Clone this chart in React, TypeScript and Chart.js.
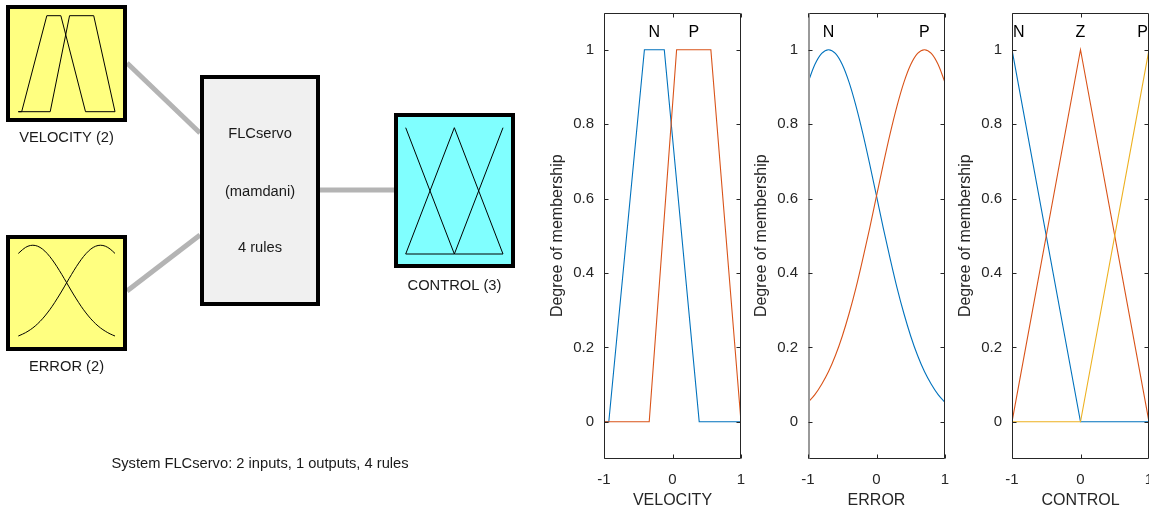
import React, { useEffect, useRef } from 'react';
import { Chart, registerables } from 'chart.js';

Chart.register(...registerables);

const FONT = '"Liberation Sans", Arial, Helvetica, sans-serif';
const AX = '#262626';
const BLUE = '#0072BD';
const ORANGE = '#D95319';
const YELLOW = '#EDB120';

// ---------- data ----------
const yTickValues = [0, 0.2, 0.4, 0.6, 0.8, 1];
const yTickLabels = ['0', '0.2', '0.4', '0.6', '0.8', '1'];
const xTickValues = [-1, 0, 1];
const xTickLabels = ['-1', '0', '1'];

const velocityNX = [-1, -0.93, -0.41, -0.12, 0.39, 1];
const velocityNY = [0, 0, 1, 1, 0, 0];
const velocityPX = [-1, -0.34, 0.06, 0.56, 1];
const velocityPY = [0, 0, 1, 1, 0];

const errorX = [-1, -0.9, -0.8, -0.7, -0.6, -0.5, -0.4, -0.3, -0.2, -0.1, 0, 0.1, 0.2, 0.3, 0.4, 0.5, 0.6, 0.7, 0.8, 0.9, 1];
const errorNY = [0.912, 0.96, 0.99, 1.0, 0.99, 0.96, 0.912, 0.849, 0.775, 0.693, 0.607, 0.52, 0.438, 0.36, 0.291, 0.23, 0.178, 0.135, 0.101, 0.073, 0.052];
const errorPY = [0.052, 0.073, 0.101, 0.135, 0.178, 0.23, 0.291, 0.36, 0.438, 0.52, 0.607, 0.693, 0.775, 0.849, 0.912, 0.96, 0.99, 1.0, 0.99, 0.96, 0.912];

const controlX = [-1, 0, 1];
const controlNY = [1, 0, 0];
const controlZY = [0, 1, 0];
const controlPY = [0, 0, 1];

const velocityNames = ['N', 'P'];
const velocityNameX = [-0.265, 0.31];
const errorNames = ['N', 'P'];
const errorNameX = [-0.7, 0.7];
const controlNames = ['N', 'Z', 'P'];
const controlNameX = [-1, 0, 1];

const systemText = 'System FLCservo: 2 inputs, 1 outputs, 4 rules';

type Series = { x: number[]; y: number[]; color: string; smooth?: boolean };

const velocitySeries: Series[] = [
  { x: velocityNX, y: velocityNY, color: BLUE },
  { x: velocityPX, y: velocityPY, color: ORANGE },
];
const errorSeries: Series[] = [
  { x: errorX, y: errorNY, color: BLUE, smooth: true },
  { x: errorX, y: errorPY, color: ORANGE, smooth: true },
];
const controlSeries: Series[] = [
  { x: controlX, y: controlNY, color: BLUE },
  { x: controlX, y: controlZY, color: ORANGE },
  { x: controlX, y: controlPY, color: YELLOW },
];

// ---------- membership function plot ----------
const Y_AXIS_W = 64;
const RIGHT_PAD = 10;
const PLOT_TOP = 12.5;
const X_AXIS_H = 55;

function MfChart(props: {
  plotLeft: number;
  plotRight: number;
  title: string;
  series: Series[];
  names: string[];
  nameX: number[];
  leftEdgeColor?: string;
}) {
  const ref = useRef<HTMLCanvasElement>(null);
  const { plotLeft, plotRight, title, series, names, nameX, leftEdgeColor } = props;
  const canvasLeft = plotLeft - Y_AXIS_W;
  const canvasWidth = plotRight - plotLeft + Y_AXIS_W + RIGHT_PAD;

  useEffect(() => {
    if (!ref.current) return;
    const boxPlugin = {
      id: 'boxPlugin',
      afterDatasetsDraw(chart: any) {
        const { ctx, chartArea } = chart;
        const xs = chart.scales.x;
        const ys = chart.scales.y;
        const L = Math.round(chartArea.left) + 0.5;
        const R = Math.round(chartArea.right) - 0.5;
        const T = Math.round(chartArea.top) + 0.5;
        const B = Math.round(chartArea.bottom) - 0.5;
        ctx.save();
        ctx.lineWidth = 1;
        ctx.strokeStyle = AX;
        ctx.beginPath();
        ctx.moveTo(L, T);
        ctx.lineTo(R, T);
        ctx.lineTo(R, B);
        ctx.lineTo(L, B);
        ctx.stroke();
        ctx.beginPath();
        if (leftEdgeColor) {
          ctx.strokeStyle = leftEdgeColor;
          ctx.lineWidth = 2;
          ctx.moveTo(L + 0.5, T);
          ctx.lineTo(L + 0.5, B);
        } else {
          ctx.moveTo(L, T);
          ctx.lineTo(L, B);
        }
        ctx.stroke();
        ctx.strokeStyle = AX;
        ctx.lineWidth = 1;
        const tl = 4;
        ctx.beginPath();
        yTickValues.forEach((v) => {
          const py = Math.round(ys.getPixelForValue(v)) + 0.5;
          ctx.moveTo(L, py);
          ctx.lineTo(L + tl, py);
          ctx.moveTo(R, py);
          ctx.lineTo(R - tl, py);
        });
        xTickValues.forEach((v) => {
          const px = Math.round(xs.getPixelForValue(v)) + 0.5;
          ctx.moveTo(px, T);
          ctx.lineTo(px, T + tl);
          ctx.moveTo(px, B);
          ctx.lineTo(px, B - tl);
        });
        ctx.stroke();
        // MF names
        ctx.font = `16px ${FONT}`;
        ctx.fillStyle = '#000';
        ctx.textBaseline = 'middle';
        ctx.textAlign = 'left';
        const ny = ys.getPixelForValue(1.045);
        names.forEach((n, i) => {
          const w = ctx.measureText(n).width;
          let cx = xs.getPixelForValue(nameX[i]);
          cx = Math.max(chartArea.left + w / 2 + 1, Math.min(chartArea.right - w / 2 - 1, cx));
          ctx.fillText(n, cx - w / 2, ny);
        });
        ctx.restore();
      },
    };

    const datasets = series.map((s, i) => ({
      data: s.x.map((x, j) => ({ x, y: s.y[j] })),
      borderColor: s.color,
      backgroundColor: s.color,
      borderWidth: 1.1,
      pointRadius: 0,
      showLine: true,
      fill: false,
      tension: s.smooth ? 0.4 : 0,
      cubicInterpolationMode: s.smooth ? 'monotone' : 'default',
      order: series.length - i,
    }));

    const chart = new Chart(ref.current, {
      type: 'scatter',
      data: { datasets: datasets as any },
      options: {
        animation: false,
        responsive: false,
        maintainAspectRatio: false,
        events: [],
        layout: { padding: { left: 0, right: RIGHT_PAD, top: PLOT_TOP, bottom: 0 } },
        plugins: { legend: { display: false }, tooltip: { enabled: false } },
        scales: {
          x: {
            type: 'linear',
            min: -1,
            max: 1,
            afterBuildTicks: (s: any) => {
              s.ticks = xTickValues.map((v) => ({ value: v }));
            },
            afterFit: (s: any) => {
              s.height = X_AXIS_H;
              s.paddingLeft = 0;
              s.paddingRight = 0;
            },
            grid: { display: false, drawTicks: false },
            border: { display: false },
            ticks: {
              callback: (_v: any, i: number) => xTickLabels[i],
              font: { family: FONT, size: 15 },
              color: AX,
              padding: 12,
              maxRotation: 0,
              autoSkip: false,
            },
            title: {
              display: true,
              text: title,
              font: { family: FONT, size: 16 },
              color: AX,
              padding: { top: 0, bottom: 4 },
            },
          },
          y: {
            type: 'linear',
            min: -0.1,
            max: 1.1,
            afterBuildTicks: (s: any) => {
              s.ticks = yTickValues.map((v) => ({ value: v }));
            },
            afterFit: (s: any) => {
              s.width = Y_AXIS_W;
              s.paddingTop = 0;
              s.paddingBottom = 0;
            },
            grid: { display: false, drawTicks: false },
            border: { display: false },
            ticks: {
              callback: (_v: any, i: number) => yTickLabels[i],
              font: { family: FONT, size: 15 },
              color: AX,
              padding: 10,
              autoSkip: false,
            },
            title: {
              display: true,
              text: 'Degree of membership',
              font: { family: FONT, size: 16 },
              color: AX,
              padding: { top: 8, bottom: 0 },
            },
          },
        },
      } as any,
      plugins: [boxPlugin],
    });
    return () => chart.destroy();
  }, []);

  return (
    <canvas
      ref={ref}
      width={canvasWidth}
      height={514}
      style={{ position: 'absolute', left: canvasLeft, top: 0, width: canvasWidth, height: 514 }}
    />
  );
}

// ---------- FIS block diagram ----------
type Box = {
  x0: number; y0: number; x1: number; y1: number;
  fill: string;
  label?: string; labelY?: number;
  icon?: { series: Series[]; l: number; r: number; t: number; b: number };
  lines?: { text: string; y: number }[];
};

const diagramBoxes: Box[] = [
  {
    x0: 6, y0: 5, x1: 127, y1: 122, fill: '#ffff80', label: 'VELOCITY (2)', labelY: 138,
    icon: { series: velocitySeries, l: 18.3, r: 115, t: 15.7, b: 111.7 },
  },
  {
    x0: 6, y0: 235, x1: 127, y1: 351, fill: '#ffff80', label: 'ERROR (2)', labelY: 367,
    icon: { series: errorSeries, l: 18.3, r: 115, t: 245, b: 341 },
  },
  {
    x0: 200, y0: 75, x1: 320, y1: 306, fill: '#f0f0f0',
    lines: [
      { text: 'FLCservo', y: 134 },
      { text: '(mamdani)', y: 192 },
      { text: '4 rules', y: 248 },
    ],
  },
  {
    x0: 394, y0: 113, x1: 515, y1: 268, fill: '#80ffff', label: 'CONTROL (3)', labelY: 286,
    icon: { series: controlSeries, l: 405.7, r: 503, t: 127.7, b: 254 },
  },
];

const connectors = [
  [127, 63, 200, 133],
  [127, 291, 200, 235],
  [320, 190, 394, 190],
];

function Diagram() {
  const ref = useRef<HTMLCanvasElement>(null);
  useEffect(() => {
    if (!ref.current) return;
    const drawPlugin = {
      id: 'diagram',
      afterDraw(chart: any) {
        const { ctx } = chart;
        const sx = chart.scales.x;
        const sy = chart.scales.y;
        const X = (v: number) => sx.getPixelForValue(v);
        const Y = (v: number) => sy.getPixelForValue(v);
        ctx.save();
        ctx.strokeStyle = '#b4b4b4';
        ctx.lineWidth = 5;
        ctx.lineCap = 'butt';
        connectors.forEach(([a, b, c, d]) => {
          ctx.beginPath();
          ctx.moveTo(X(a), Y(b));
          ctx.lineTo(X(c), Y(d));
          ctx.stroke();
        });
        diagramBoxes.forEach((bx) => {
          const x0 = X(bx.x0), y0 = Y(bx.y0), x1 = X(bx.x1), y1 = Y(bx.y1);
          ctx.fillStyle = bx.fill;
          ctx.fillRect(x0, y0, x1 - x0, y1 - y0);
          ctx.strokeStyle = '#000';
          ctx.lineWidth = 4;
          ctx.strokeRect(x0 + 2, y0 + 2, x1 - x0 - 4, y1 - y0 - 4);
          if (bx.icon) {
            const ic = bx.icon;
            const mx = (v: number) => X(ic.l) + ((v + 1) / 2) * (X(ic.r) - X(ic.l));
            const my = (v: number) => Y(ic.b) - v * (Y(ic.b) - Y(ic.t));
            ctx.strokeStyle = '#000';
            ctx.lineWidth = 1;
            ic.series.forEach((s) => {
              ctx.beginPath();
              const pts = s.x.map((x, i) => [mx(x), my(s.y[i])]);
              ctx.moveTo(pts[0][0], pts[0][1]);
              if (s.smooth) {
                for (let i = 1; i < pts.length - 1; i++) {
                  const xm = (pts[i][0] + pts[i + 1][0]) / 2;
                  const ym = (pts[i][1] + pts[i + 1][1]) / 2;
                  ctx.quadraticCurveTo(pts[i][0], pts[i][1], xm, ym);
                }
                ctx.lineTo(pts[pts.length - 1][0], pts[pts.length - 1][1]);
              } else {
                for (let i = 1; i < pts.length; i++) ctx.lineTo(pts[i][0], pts[i][1]);
              }
              ctx.stroke();
            });
          }
          ctx.fillStyle = '#1a1a1a';
          ctx.font = `14.7px ${FONT}`;
          ctx.textAlign = 'center';
          ctx.textBaseline = 'middle';
          const cx = (x0 + x1) / 2;
          if (bx.label) ctx.fillText(bx.label, cx, Y(bx.labelY as number));
          (bx.lines || []).forEach((ln) => ctx.fillText(ln.text, cx, Y(ln.y)));
        });
        ctx.fillStyle = '#1a1a1a';
        ctx.font = `14.7px ${FONT}`;
        ctx.textAlign = 'center';
        ctx.textBaseline = 'middle';
        ctx.fillText(systemText, X(260), Y(464));
        ctx.restore();
      },
    };
    const chart = new Chart(ref.current, {
      type: 'scatter',
      data: { datasets: [] },
      options: {
        animation: false,
        responsive: false,
        maintainAspectRatio: false,
        events: [],
        layout: { padding: 0 },
        plugins: { legend: { display: false }, tooltip: { enabled: false } },
        scales: {
          x: { type: 'linear', min: 0, max: 540, display: false },
          y: { type: 'linear', min: 0, max: 514, reverse: true, display: false },
        },
      } as any,
      plugins: [drawPlugin],
    });
    return () => chart.destroy();
  }, []);
  return (
    <canvas
      ref={ref}
      width={540}
      height={514}
      style={{ position: 'absolute', left: 0, top: 0, width: 540, height: 514 }}
    />
  );
}

export default function App() {
  return (
    <div
      style={{
        position: 'absolute',
        left: 0,
        top: 0,
        width: 1149,
        height: 514,
        overflow: 'hidden',
        background: '#fff',
      }}
    >
      <Diagram />
      <MfChart plotLeft={604} plotRight={741} title="VELOCITY" series={velocitySeries} names={velocityNames} nameX={velocityNameX} />
      <MfChart plotLeft={808} plotRight={945} title="ERROR" series={errorSeries} names={errorNames} nameX={errorNameX} leftEdgeColor="#9a9a9a" />
      <MfChart plotLeft={1012} plotRight={1149} title="CONTROL" series={controlSeries} names={controlNames} nameX={controlNameX} />
    </div>
  );
}
